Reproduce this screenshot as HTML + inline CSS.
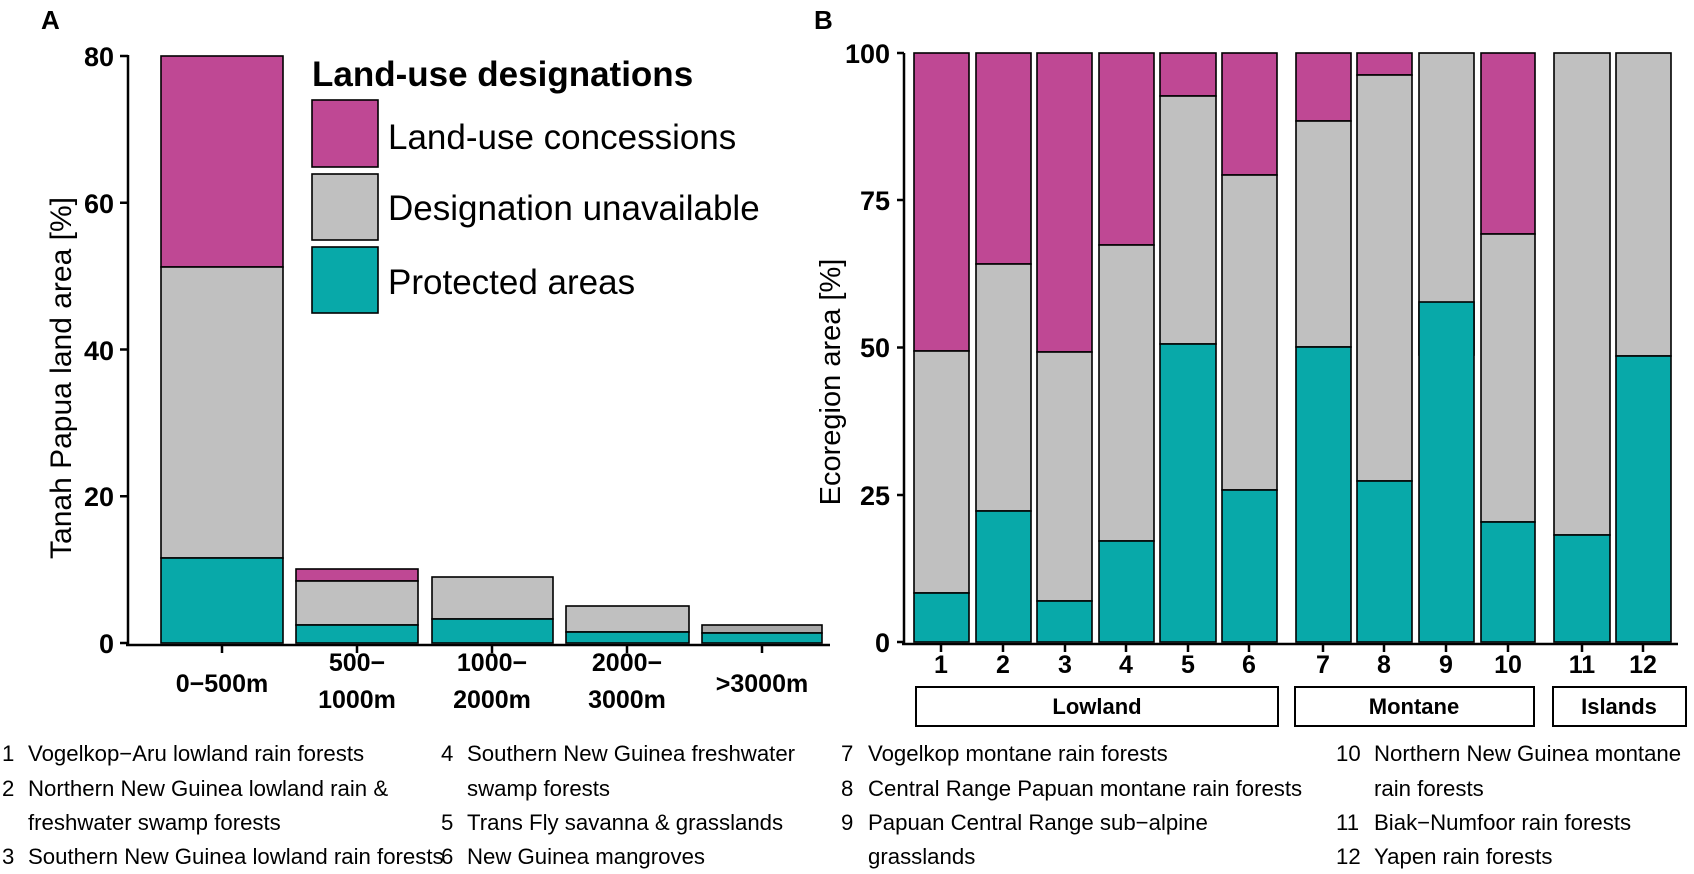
<!DOCTYPE html>
<html><head><meta charset="utf-8"><style>
html,body{margin:0;padding:0;background:#fff}
svg{display:block}
text{font-family:"Liberation Sans",Arial,sans-serif;fill:#000}
.b{font-weight:bold}
</style></head><body>
<svg width="1694" height="874" xmlns="http://www.w3.org/2000/svg">
<g stroke="#000" stroke-width="1.6">
<rect x="161" y="56" width="122" height="211" fill="#bf4894"/>
<rect x="161" y="267" width="122" height="291" fill="#c0c0c0"/>
<rect x="161" y="558" width="122" height="85" fill="#08a9a9"/>
<rect x="296" y="569" width="122" height="12" fill="#bf4894"/>
<rect x="296" y="581" width="122" height="44" fill="#c0c0c0"/>
<rect x="296" y="625" width="122" height="18" fill="#08a9a9"/>
<rect x="432" y="577" width="121" height="42" fill="#c0c0c0"/>
<rect x="432" y="619" width="121" height="24" fill="#08a9a9"/>
<rect x="566" y="606" width="123" height="26" fill="#c0c0c0"/>
<rect x="566" y="632" width="123" height="11" fill="#08a9a9"/>
<rect x="702" y="625" width="120" height="8" fill="#a8a8a8"/>
<rect x="702" y="633" width="120" height="10" fill="#08a9a9"/>
<rect x="312" y="100" width="66" height="67" fill="#bf4894"/>
<rect x="312" y="174" width="66" height="66" fill="#c0c0c0"/>
<rect x="312" y="247" width="66" height="66" fill="#08a9a9"/>
</g>
<g stroke="#000" stroke-width="2.5" fill="none">
<path d="M128 55 V645 M120 56 H128 M120 202.8 H128 M120 349.5 H128 M120 496.3 H128 M120 643 H128"/>
<path d="M126 645 H830 M222 645 V653 M357 645 V653 M492 645 V653 M627 645 V653 M762 645 V653"/>
</g>
<text class="b" x="41" y="29" font-size="26">A</text>
<g class="b" font-size="27" text-anchor="end">
<text x="114" y="66">80</text><text x="114" y="213">60</text><text x="114" y="360">40</text><text x="114" y="506">20</text><text x="114" y="653">0</text>
</g>
<text transform="translate(71,378) rotate(-90)" font-size="30" text-anchor="middle">Tanah Papua land area [%]</text>
<text class="b" x="312" y="86" font-size="35">Land-use designations</text>
<g font-size="35">
<text x="388" y="149">Land-use concessions</text>
<text x="388" y="220">Designation unavailable</text>
<text x="388" y="294">Protected areas</text>
</g>
<g class="b" font-size="25" text-anchor="middle">
<text x="222" y="692">0−500m</text>
<text x="357" y="671">500−</text><text x="357" y="708">1000m</text>
<text x="492" y="671">1000−</text><text x="492" y="708">2000m</text>
<text x="627" y="671">2000−</text><text x="627" y="708">3000m</text>
<text x="762" y="692">&gt;3000m</text>
</g>

<g stroke="#000" stroke-width="2.5" fill="none">
<path d="M904 53 V644 M897 53 H904 M897 200 H904 M897 347.5 H904 M897 495 H904 M897 642 H904"/>
<path d="M902 644 H1678 M941 644 V652 M1003 644 V652 M1065 644 V652 M1126 644 V652 M1188 644 V652 M1249 644 V652 M1323 644 V652 M1384 644 V652 M1446 644 V652 M1508 644 V652 M1582 644 V652 M1643 644 V652"/>
</g>
<text class="b" x="814" y="29" font-size="26">B</text>
<g class="b" font-size="27" text-anchor="end">
<text x="890" y="63">100</text><text x="890" y="210">75</text><text x="890" y="357">50</text><text x="890" y="505">25</text><text x="890" y="652">0</text>
</g>
<text transform="translate(840,382) rotate(-90)" font-size="29" text-anchor="middle">Ecoregion area [%]</text>
<g class="b" font-size="25" text-anchor="middle">
<text x="941" y="673">1</text><text x="1003" y="673">2</text><text x="1065" y="673">3</text><text x="1126" y="673">4</text><text x="1188" y="673">5</text><text x="1249" y="673">6</text><text x="1323" y="673">7</text><text x="1384" y="673">8</text><text x="1446" y="673">9</text><text x="1508" y="673">10</text><text x="1582" y="673">11</text><text x="1643" y="673">12</text>
</g>
<g stroke="#000" stroke-width="2" fill="#fff">
<rect x="916" y="687" width="362" height="39"/>
<rect x="1295" y="687" width="239" height="39"/>
<rect x="1553" y="687" width="133" height="39"/>
</g>
<g class="b" font-size="22" text-anchor="middle">
<text x="1097" y="714">Lowland</text><text x="1414" y="714">Montane</text><text x="1619" y="714">Islands</text>
</g>

<g font-size="22.2">
<text x="2" y="761">1</text><text x="28" y="761">Vogelkop−Aru lowland rain forests</text>
<text x="2" y="796">2</text><text x="28" y="796">Northern New Guinea lowland rain &amp;</text>
<text x="28" y="830">freshwater swamp forests</text>
<text x="2" y="864">3</text><text x="28" y="864">Southern New Guinea lowland rain forests</text>

<text x="441" y="761">4</text><text x="467" y="761">Southern New Guinea freshwater</text>
<text x="467" y="796">swamp forests</text>
<text x="441" y="830">5</text><text x="467" y="830">Trans Fly savanna &amp; grasslands</text>
<text x="441" y="864">6</text><text x="467" y="864">New Guinea mangroves</text>

<text x="841" y="761">7</text><text x="868" y="761">Vogelkop montane rain forests</text>
<text x="841" y="796">8</text><text x="868" y="796">Central Range Papuan montane rain forests</text>
<text x="841" y="830">9</text><text x="868" y="830">Papuan Central Range sub−alpine</text>
<text x="868" y="864">grasslands</text>

<text x="1336" y="761">10</text><text x="1374" y="761">Northern New Guinea montane</text>
<text x="1374" y="796">rain forests</text>
<text x="1336" y="830">11</text><text x="1374" y="830">Biak−Numfoor rain forests</text>
<text x="1336" y="864">12</text><text x="1374" y="864">Yapen rain forests</text>
</g>

<g stroke="#000" stroke-width="1.6">
<rect x="914" y="53" width="55" height="298" fill="#bf4894"/><rect x="914" y="351" width="55" height="242" fill="#c0c0c0"/><rect x="914" y="593" width="55" height="49" fill="#08a9a9"/>
<rect x="976" y="53" width="55" height="211" fill="#bf4894"/><rect x="976" y="264" width="55" height="247" fill="#c0c0c0"/><rect x="976" y="511" width="55" height="131" fill="#08a9a9"/>
<rect x="1037" y="53" width="55" height="299" fill="#bf4894"/><rect x="1037" y="352" width="55" height="249" fill="#c0c0c0"/><rect x="1037" y="601" width="55" height="41" fill="#08a9a9"/>
<rect x="1099" y="53" width="55" height="192" fill="#bf4894"/><rect x="1099" y="245" width="55" height="296" fill="#c0c0c0"/><rect x="1099" y="541" width="55" height="101" fill="#08a9a9"/>
<rect x="1160" y="53" width="56" height="43" fill="#bf4894"/><rect x="1160" y="96" width="56" height="248" fill="#c0c0c0"/><rect x="1160" y="344" width="56" height="298" fill="#08a9a9"/>
<rect x="1222" y="53" width="55" height="122" fill="#bf4894"/><rect x="1222" y="175" width="55" height="315" fill="#c0c0c0"/><rect x="1222" y="490" width="55" height="152" fill="#08a9a9"/>
<rect x="1296" y="53" width="55" height="68" fill="#bf4894"/><rect x="1296" y="121" width="55" height="226" fill="#c0c0c0"/><rect x="1296" y="347" width="55" height="295" fill="#08a9a9"/>
<rect x="1357" y="53" width="55" height="22" fill="#bf4894"/><rect x="1357" y="75" width="55" height="406" fill="#c0c0c0"/><rect x="1357" y="481" width="55" height="161" fill="#08a9a9"/>
<rect x="1419" y="53" width="55" height="302" fill="#c0c0c0"/><rect x="1419" y="302" width="55" height="340" fill="#08a9a9"/>
<rect x="1481" y="53" width="54" height="181" fill="#bf4894"/><rect x="1481" y="234" width="54" height="288" fill="#c0c0c0"/><rect x="1481" y="522" width="54" height="120" fill="#08a9a9"/>
<rect x="1554" y="53" width="56" height="482" fill="#c0c0c0"/><rect x="1554" y="535" width="56" height="107" fill="#08a9a9"/>
<rect x="1616" y="53" width="55" height="303" fill="#c0c0c0"/><rect x="1616" y="356" width="55" height="286" fill="#08a9a9"/>
</g>
</svg>
</body></html>
